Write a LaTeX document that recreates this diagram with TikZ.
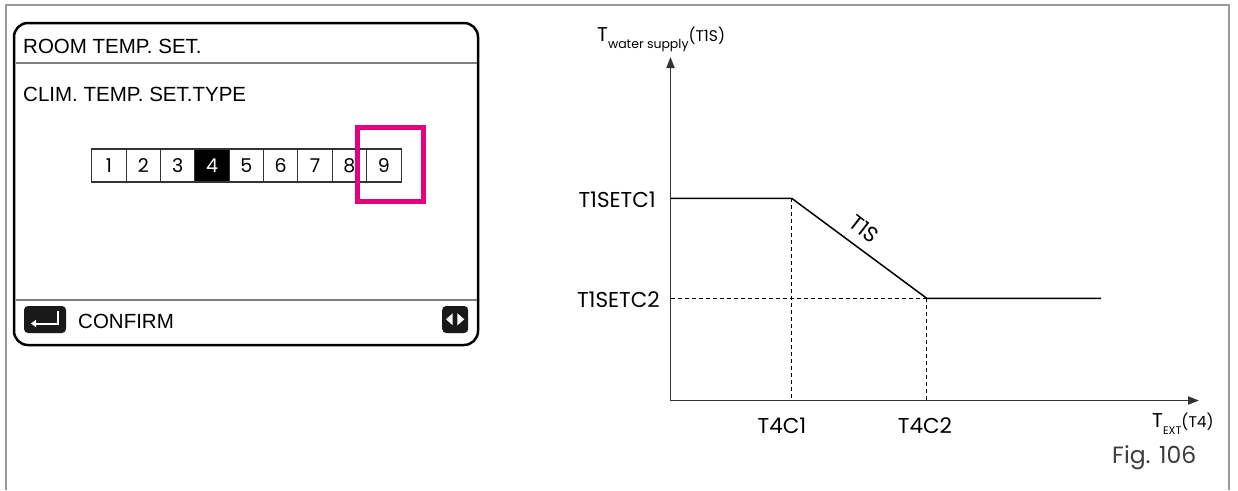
\documentclass[tikz,border=0pt]{standalone}
\usepackage{fontspec}
\setmainfont{Liberation Sans}
\newfontfamily\gfont{Poppins}
\usetikzlibrary{arrows.meta}
\definecolor{framegray}{HTML}{9A9A9A}
\definecolor{hlpink}{HTML}{E5007E}
\definecolor{sepgray}{HTML}{7F7F7F}
\definecolor{axisgray}{HTML}{333333}
\definecolor{figgray}{HTML}{3C3C3C}
\tikzset{
  paneltext/.style={anchor=base west, inner sep=0, font=\fontsize{20.5}{24}\selectfont},
  cell/.style={draw=axisgray, line width=1.1, minimum width=34.4, minimum height=33, inner sep=0, font=\gfont\fontsize{19}{21}\selectfont},
  iconbox/.style={fill=black!90, rounded corners=4, inner sep=0},
  axisline/.style={draw=axisgray, line width=1.8, -{Triangle[length=11,width=8]}},
  curve/.style={draw=black, line width=1.5},
  guide/.style={draw=black, line width=1.2, dash pattern=on 4 off 3},
  glabel/.style={inner sep=0, font=\gfont\fontsize{21.5}{24}\selectfont}
}
\begin{document}
\begin{tikzpicture}[x=1pt,y=-1pt]
\useasboundingbox (0,0) rectangle (1238,490);
% outer frame (open at bottom)
\draw[framegray, line width=2] (6,490) -- (6,5) -- (1229,5) -- (1229,490);

% panel
\draw[line width=2.5, rounded corners=14] (14,23) rectangle (478,345);
\draw[sepgray, line width=1.2] (15.5,63) -- (476.5,63);
\draw[sepgray, line width=1.2] (15.5,300) -- (476.5,300);
\node[paneltext] (title) at (23,53) {ROOM TEMP. SET.};
\node[paneltext] (sub) at (23,101) {CLIM. TEMP. SET.TYPE};

% cells
\foreach \i in {1,2,3,5,6,7,8,9}{
  \node[cell] (c\i) at ({91.7+34.37*(\i-0.5)},165.5) {\i};
}
\node[cell, fill=black, text=white] (c4) at ({91.7+34.37*3.5},165.5) {4};
\node[draw=hlpink, line width=5, minimum width=66, minimum height=74, inner sep=0] (hl) at (390.5,164.5) {};

% confirm row
\node[iconbox, minimum width=42, minimum height=27] (enter) at (45,319.5) {};
\draw[white, line width=2, -{Triangle[length=5,width=7]}] (58,311) -- (58,323.5) -- (31,323.5);
\node[paneltext] (confirm) at (78,328) {CONFIRM};
\node[iconbox, minimum width=26, minimum height=27] (lr) at (455.2,319.5) {};
\fill[white] (446,319.3) -- (452.7,313.3) -- (452.7,325.3) -- cycle;
\fill[white] (464.3,319.3) -- (457.4,313.3) -- (457.4,325.3) -- cycle;

% graph
\coordinate (O) at (670.5,400.5);
\coordinate (ytip) at (670.5,57);
\coordinate (xtip) at (1199,400.5);
\coordinate (p1) at (670.5,198.3);
\coordinate (p2) at (791.7,198.3);
\coordinate (p3) at (926.7,298.3);
\coordinate (p4) at (1101,298.3);
\coordinate (q1) at (791.7,400.5);
\coordinate (q2) at (926.7,400.5);
\coordinate (q3) at (670.5,298.3);
\draw[guide] (p2) -- (q1);
\draw[guide] (q3) -- (p3);
\draw[guide] (p3) -- (q2);
\draw[curve] (p1) -- (p2) -- (p3) -- (p4);
\draw[axisline] (O) -- (ytip);
\draw[axisline] (O) -- (xtip);

\node[glabel, anchor=east] (l1) at (656,199.5) {T1SETC1};
\node[glabel, anchor=east] (l2) at (660,299.5) {T1SETC2};
\node[glabel] (l3) at (782,426) {T4C1};
\node[glabel] (l4) at (925,426) {T4C2};
\node[glabel, rotate=-38] (l5) at (864,229) {T1S};

\node[anchor=base west, inner sep=0] (ylab) at (597,41) {\gfont\fontsize{20}{22}\selectfont T\raisebox{-7pt}{\fontsize{12.5}{14}\selectfont water supply}\fontsize{15.5}{18}\selectfont(T1S)};
\node[anchor=base west, inner sep=0] (xlab) at (1152,427.5) {\gfont\fontsize{20}{22}\selectfont T\raisebox{-7pt}{\fontsize{11}{12}\selectfont EXT}\fontsize{15.5}{18}\selectfont(T4)};
\node[anchor=base west, inner sep=0, text=figgray] (fig) at (1112,463) {\gfont\fontsize{23.5}{26}\selectfont Fig. 106};
\end{tikzpicture}
\end{document}
